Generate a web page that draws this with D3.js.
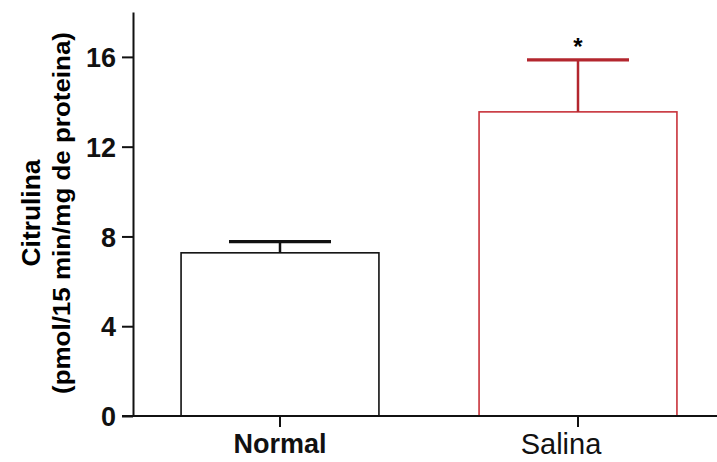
<!DOCTYPE html>
<html>
<head>
<meta charset="utf-8">
<script src="https://cdn.jsdelivr.net/npm/d3@7"></script>
<style>
  body { margin: 0; background: #fff; }
  svg { display: block; font-family: "Liberation Sans", Arial, sans-serif; }
</style>
</head>
<body>
<div id="chart"></div>
<script>
// data
var groups = ["Normal", "Salina"];
var means = [7.27, 13.55];
var errors = [0.5, 2.32];
var marks = ["", "*"];
var yTicks = [0, 4, 8, 12, 16];

var width = 717, height = 462;
var barColors = ["#111", "#c8323a"];
var errColors = ["#111", "#b3262e"];

var svg = d3.select("#chart")
  .append("svg")
  .attr("width", width)
  .attr("height", height);

// set the ranges
var x = d3.scaleBand()
  .domain(groups)
  .range([131, 727])
  .paddingInner(0.336)
  .paddingOuter(0.168);
var y = d3.scaleLinear().domain([0, 18]).range([416, 12]);

var data = groups.map(function(g, i) {
  return { name: g, mean: means[i], err: errors[i], mark: marks[i], i: i };
});

// bars
svg.selectAll(".bar")
  .data(data)
  .enter()
  .append("rect")
  .attr("class", "bar")
  .attr("x", function(d) { return x(d.name); })
  .attr("width", x.bandwidth())
  .attr("y", function(d) { return y(d.mean); })
  .attr("height", function(d) { return y(0) - y(d.mean); })
  .attr("fill", "#fff")
  .attr("stroke", function(d) { return barColors[d.i]; })
  .attr("stroke-width", 1.6);

// error bars (upper only)
var eb = svg.selectAll(".err")
  .data(data)
  .enter()
  .append("g")
  .attr("class", "err");
eb.append("line")
  .attr("x1", function(d) { return x(d.name) + x.bandwidth() / 2; })
  .attr("x2", function(d) { return x(d.name) + x.bandwidth() / 2; })
  .attr("y1", function(d) { return y(d.mean); })
  .attr("y2", function(d) { return y(d.mean + d.err); })
  .attr("stroke", function(d) { return errColors[d.i]; })
  .attr("stroke-width", 2.5);
eb.append("line")
  .attr("x1", function(d) { return x(d.name) + x.bandwidth() / 2 - 51; })
  .attr("x2", function(d) { return x(d.name) + x.bandwidth() / 2 + 51; })
  .attr("y1", function(d) { return y(d.mean + d.err); })
  .attr("y2", function(d) { return y(d.mean + d.err); })
  .attr("stroke", function(d) { return errColors[d.i]; })
  .attr("stroke-width", 3.2);

// significance marks
svg.selectAll(".mark")
  .data(data)
  .enter()
  .append("text")
  .attr("class", "mark")
  .attr("x", function(d) { return x(d.name) + x.bandwidth() / 2; })
  .attr("y", function(d) { return y(d.mean + d.err) - 5; })
  .attr("text-anchor", "middle")
  .style("font-size", "24px")
  .style("font-weight", "bold")
  .text(function(d) { return d.mark; });

// y axis
var yAxis = svg.append("g")
  .attr("transform", "translate(133,0)")
  .call(d3.axisLeft(y).tickValues(yTicks).tickSize(11).tickSizeOuter(0));
yAxis.select(".domain").attr("stroke", "#111").attr("stroke-width", 2);
yAxis.selectAll(".tick line").attr("stroke", "#111").attr("stroke-width", 2);
yAxis.selectAll("text")
  .attr("x", -17)
  .attr("dy", "0.36em")
  .attr("fill", "#111")
  .style("font-size", "27px")
  .style("font-weight", "bold");

// x axis
var xAxis = svg.append("g")
  .attr("transform", "translate(0,416)")
  .call(d3.axisBottom(x).tickSize(11).tickSizeOuter(0));
xAxis.select(".domain").remove();
xAxis.selectAll(".tick line").attr("stroke", "#111").attr("stroke-width", 2);
xAxis.selectAll("text")
  .attr("y", 37)
  .attr("dy", 0)
  .attr("fill", "#111")
  .style("font-size", "27px")
  .style("font-weight", "bold");
xAxis.selectAll("text")
  .filter(function(d) { return d === "Salina"; })
  .attr("x", -17)
  .attr("y", 38)
  .style("font-size", "29px")
  .style("font-weight", "normal");

svg.append("line")
  .attr("x1", 122).attr("x2", width)
  .attr("y1", 416).attr("y2", 416)
  .attr("stroke", "#111")
  .attr("stroke-width", 2);

// y axis title
svg.append("text")
  .attr("transform", "translate(40,213) rotate(-90)")
  .attr("text-anchor", "middle")
  .attr("textLength", 107)
  .attr("lengthAdjust", "spacingAndGlyphs")
  .style("font-size", "25px")
  .style("font-weight", "bold")
  .text("Citrulina");
svg.append("text")
  .attr("transform", "translate(70,213) rotate(-90)")
  .attr("text-anchor", "middle")
  .attr("textLength", 362)
  .attr("lengthAdjust", "spacingAndGlyphs")
  .style("font-size", "24px")
  .style("font-weight", "bold")
  .text("(pmol/15 min/mg de proteina)");
</script>
</body>
</html>
